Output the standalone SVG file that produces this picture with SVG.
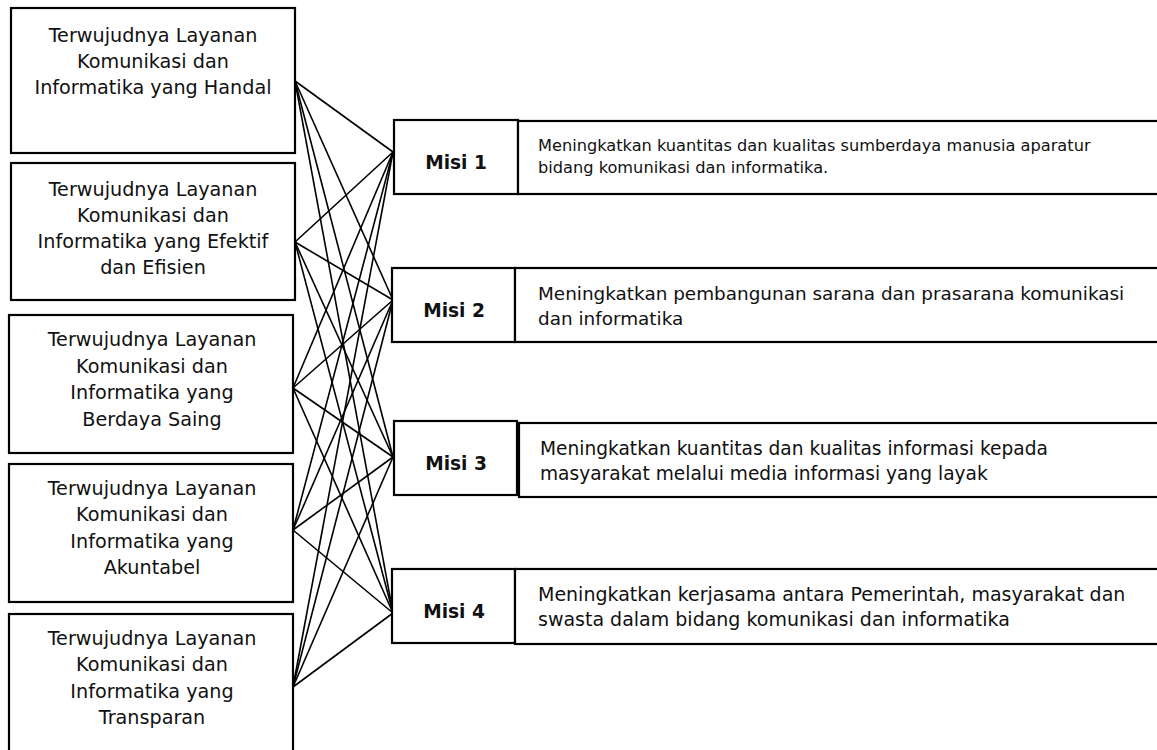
<svg xmlns="http://www.w3.org/2000/svg" width="1157" height="750" viewBox="0 0 1157 750">
<style>
.box{fill:#fff;stroke:#000;stroke-width:2.2}
.t{font-family:"DejaVu Sans","Verdana",sans-serif;font-size:19.2px;fill:#111;text-anchor:middle}
.m{font-family:"DejaVu Sans","Verdana",sans-serif;font-size:18.6px;font-weight:bold;fill:#111;text-anchor:middle}
.d{font-family:"DejaVu Sans","Verdana",sans-serif;font-size:18.6px;fill:#111}
.d1{font-family:"DejaVu Sans","Verdana",sans-serif;font-size:16.2px;fill:#111}
.c line{stroke:#000;stroke-width:1.6}
</style>
<rect width="1157" height="750" fill="#fff"/>
<g id="v1"><rect class="box" x="11" y="8" width="284" height="145"/>
<text class="t" x="153" y="42">Terwujudnya Layanan</text>
<text class="t" x="153" y="68">Komunikasi dan</text>
<text class="t" x="153" y="94">Informatika yang Handal</text></g>
<g id="v2"><rect class="box" x="11" y="163" width="284" height="137"/>
<text class="t" x="153" y="196">Terwujudnya Layanan</text>
<text class="t" x="153" y="222">Komunikasi dan</text>
<text class="t" x="153" y="248">Informatika yang Efektif</text>
<text class="t" x="153" y="274">dan Efisien</text></g>
<g id="v3"><rect class="box" x="9" y="315" width="284" height="138"/>
<text class="t" x="152" y="346">Terwujudnya Layanan</text>
<text class="t" x="152" y="373">Komunikasi dan</text>
<text class="t" x="152" y="399">Informatika yang</text>
<text class="t" x="152" y="426">Berdaya Saing</text></g>
<g id="v4"><rect class="box" x="9" y="464" width="284" height="138"/>
<text class="t" x="152" y="495">Terwujudnya Layanan</text>
<text class="t" x="152" y="521">Komunikasi dan</text>
<text class="t" x="152" y="548">Informatika yang</text>
<text class="t" x="152" y="574">Akuntabel</text></g>
<g id="v5"><rect class="box" x="9" y="614" width="284" height="150"/>
<text class="t" x="152" y="645">Terwujudnya Layanan</text>
<text class="t" x="152" y="671">Komunikasi dan</text>
<text class="t" x="152" y="698">Informatika yang</text>
<text class="t" x="152" y="724">Transparan</text></g>
<g id="c" class="c">
<line x1="295" y1="81" x2="393" y2="152"/><line x1="295" y1="81" x2="393" y2="300"/><line x1="295" y1="81" x2="393" y2="457"/><line x1="295" y1="81" x2="393" y2="613"/>
<line x1="295" y1="242" x2="393" y2="152"/><line x1="295" y1="242" x2="393" y2="300"/><line x1="295" y1="242" x2="393" y2="457"/><line x1="295" y1="242" x2="393" y2="613"/>
<line x1="293" y1="388" x2="393" y2="152"/><line x1="293" y1="388" x2="393" y2="300"/><line x1="293" y1="388" x2="393" y2="457"/><line x1="293" y1="388" x2="393" y2="613"/>
<line x1="293" y1="530" x2="393" y2="152"/><line x1="293" y1="530" x2="393" y2="300"/><line x1="293" y1="530" x2="393" y2="457"/><line x1="293" y1="530" x2="393" y2="613"/>
<line x1="293" y1="687" x2="393" y2="152"/><line x1="293" y1="687" x2="393" y2="300"/><line x1="293" y1="687" x2="393" y2="457"/><line x1="293" y1="687" x2="393" y2="613"/>
</g>
<g id="m1"><rect class="box" x="394" y="120" width="124" height="74"/><text class="m" x="456" y="169">Misi 1</text>
<rect class="box" x="518" y="121" width="660" height="73"/>
<text class="d1" x="538" y="151">Meningkatkan kuantitas dan kualitas sumberdaya manusia aparatur</text>
<text class="d1" x="538" y="173">bidang komunikasi dan informatika.</text></g>
<g id="m2"><rect class="box" x="392" y="268" width="123" height="74"/><text class="m" x="454" y="317">Misi 2</text>
<rect class="box" x="515" y="268" width="660" height="74"/>
<text class="d" x="538" y="300" style="font-size:18.4px">Meningkatkan pembangunan sarana dan prasarana komunikasi</text>
<text class="d" x="538" y="325" style="font-size:18.4px">dan informatika</text></g>
<g id="m3"><rect class="box" x="394" y="421" width="123" height="74"/><text class="m" x="456" y="470">Misi 3</text>
<rect class="box" x="519" y="423" width="660" height="74"/>
<text class="d" x="540" y="455">Meningkatkan kuantitas dan kualitas informasi kepada</text>
<text class="d" x="540" y="480">masyarakat melalui media informasi yang layak</text></g>
<g id="m4"><rect class="box" x="392" y="569" width="123" height="74"/><text class="m" x="454" y="618">Misi 4</text>
<rect class="box" x="515" y="569" width="660" height="75"/>
<text class="d" x="538" y="601" style="font-size:19px">Meningkatkan kerjasama antara Pemerintah, masyarakat dan</text>
<text class="d" x="538" y="626" style="font-size:19px">swasta dalam bidang komunikasi dan informatika</text></g>
</svg>
